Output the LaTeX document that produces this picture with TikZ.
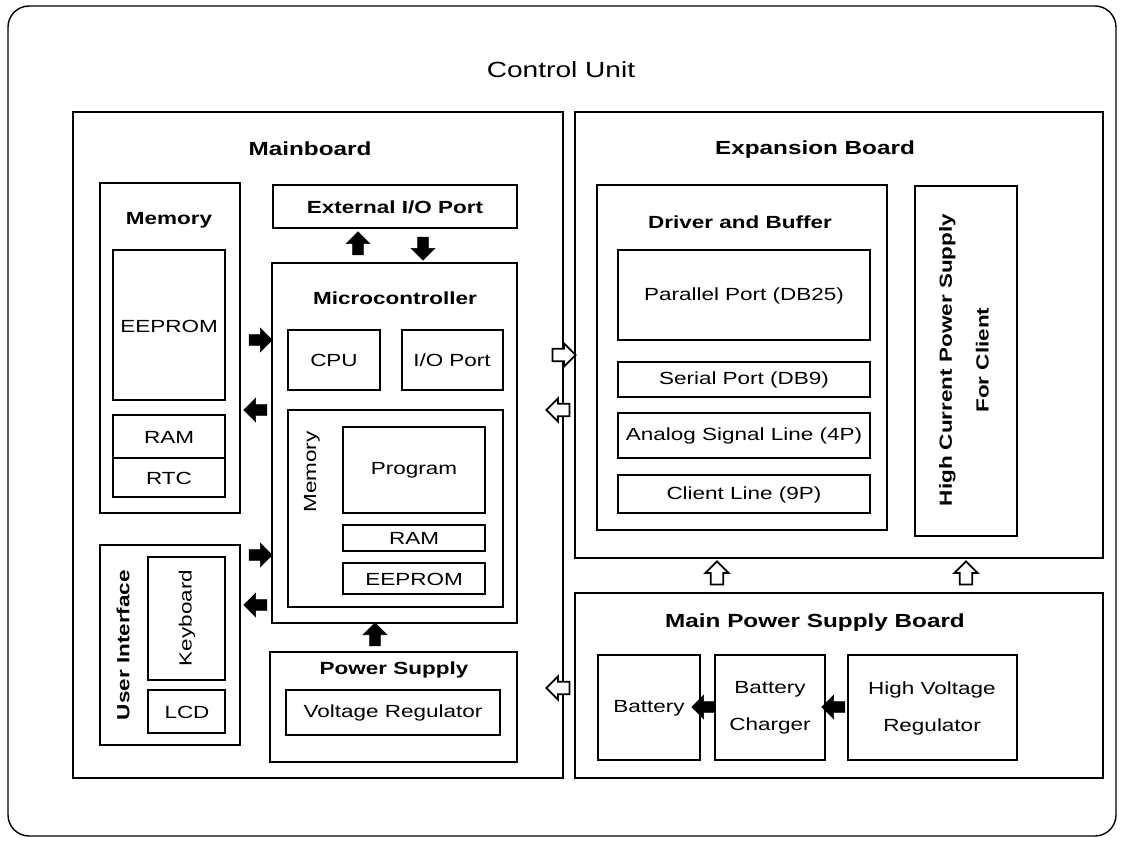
\documentclass[tikz,border=0pt]{standalone}
\usepackage{fontspec}
\setmainfont[FakeStretch=1.28]{Liberation Sans}
\usetikzlibrary{
		positioning,
		shapes.arrows
	}
\tikzset{
		board/.style={line width=1.3pt},
		inbox/.style={line width=0.8pt},
		txt/.style={font=\fontsize{10}{13}\selectfont, inner sep=1pt},
		btitle/.style={font=\bfseries\fontsize{10.8}{13}\selectfont, inner sep=1pt},
		stitle/.style={font=\bfseries\fontsize{10}{13}\selectfont, inner sep=1pt},
		blk/.style={single arrow, fill=black, draw=black, inner sep=2.8pt,
			minimum height=0.46cm, single arrow head extend=0.13cm},
		hollow/.style={single arrow, fill=white, draw=black, line width=1pt, inner sep=3pt,
			minimum height=0.46cm, single arrow head extend=0.11cm}
	}

\begin{document}
\begin{tikzpicture}[x=0.02cm, y=-0.02cm]
		\useasboundingbox (0,0) rectangle (1123,843);
		% outer frame
		\draw[line width=0.8pt, rounded corners=12pt] (8,6) rectangle (1116,836);
		\node[font=\fontsize{12.5}{14}\selectfont] (unit) at (561,70) {Control Unit};

		% mainboard
		\draw[board] (73,112) rectangle (563,778);
		\node[btitle] (mainboard) at (310,149) {Mainboard};

		\draw[board] (100,183) rectangle (240,513);
		\node[stitle] (mem) at (169,220) {Memory};
		\draw[inbox] (113,250) rectangle (225,400); \node[txt] (eeprom) at (169,326) {EEPROM};
		\draw[inbox] (113,415) rectangle (225,458); \node[txt] (ram) at (169,437) {RAM};
		\draw[inbox] (113,458) rectangle (225,497); \node[txt] (rtc) at (169,478) {RTC};

		\draw[board] (273,185) rectangle (517,228);
		\node[stitle] (extio) at (395,207) {External I/O Port};

		\draw[board] (272,263) rectangle (517,623);
		\node[stitle] (mcu) at (395,298) {Microcontroller};
		\draw[inbox] (288,330) rectangle (380,390); \node[txt] (cpu) at (334,360) {CPU};
		\draw[inbox] (402,330) rectangle (503,390); \node[txt] (ioport) at (452,360) {I/O Port};
		\draw[inbox] (288,410) rectangle (503,607);
		\node[txt, rotate=90] (mcumem) at (312,472) {Memory};
		\draw[inbox] (343,427) rectangle (485,513); \node[txt] (prog) at (414,470) {Program};
		\draw[inbox] (343,525) rectangle (485,551); \node[txt] (mcuram) at (414,538) {RAM};
		\draw[inbox] (343,563) rectangle (485,594); \node[txt] (mcueeprom) at (414,579) {EEPROM};

		\draw[board] (100,545) rectangle (240,745);
		\node[stitle, rotate=90] (ui) at (123,645) {User Interface};
		\draw[inbox] (148,557) rectangle (225,680); \node[txt, rotate=90] (kbd) at (187,618) {Keyboard};
		\draw[inbox] (148,690) rectangle (225,733); \node[txt] (lcd) at (187,712) {LCD};

		\draw[board] (270,652) rectangle (517,762);
		\node[stitle] (psu) at (394,670) {Power Supply};
		\draw[inbox] (286,690) rectangle (500,735); \node[txt] (vreg) at (393,713) {Voltage Regulator};

		% arrows on the mainboard
		\node[blk] (a1) at (258,340) {};
		\node[blk, shape border rotate=180] (a2) at (258,410) {};
		\node[blk] (a3) at (258,555) {};
		\node[blk, shape border rotate=180] (a4) at (258,605) {};
		\node[blk, shape border rotate=90] (a5) at (358,246) {};
		\node[blk, shape border rotate=270] (a6) at (423,246) {};
		\node[blk, shape border rotate=90] (a7) at (375,637) {};

		% expansion board
		\draw[board] (575,112) rectangle (1103,558);
		\node[btitle] (exp) at (815,150) {Expansion Board};
		\draw[board] (597,185) rectangle (887,530);
		\node[stitle] (drv) at (740,222) {Driver and Buffer};
		\draw[inbox] (618,250) rectangle (870,340); \node[txt] (par) at (744,296) {Parallel Port (DB25)};
		\draw[inbox] (618,362) rectangle (870,397); \node[txt] (ser) at (744,380) {Serial Port (DB9)};
		\draw[inbox] (618,413) rectangle (870,458); \node[txt] (ana) at (744,436) {Analog Signal Line (4P)};
		\draw[inbox] (618,475) rectangle (870,513); \node[txt] (cli) at (744,495) {Client Line (9P)};
		\draw[board] (915,186) rectangle (1017,536);
		\node[stitle, rotate=90, align=center] (hcps) at (964,360) {High Current Power Supply\\[8pt]For Client};

		% main power supply board
		\draw[board] (575,593) rectangle (1103,778);
		\node[btitle] (mpsb) at (815,623) {Main Power Supply Board};
		\draw[inbox] (598,655) rectangle (700,760); \node[txt] (bat) at (649,708) {Battery};
		\draw[inbox] (715,655) rectangle (825,760); \node[txt, align=center] (chg) at (770,708) {Battery\\[8pt]Charger};
		\draw[inbox] (848,655) rectangle (1017,760); \node[txt, align=center] (hvr) at (932,708) {High Voltage\\[8pt]Regulator};
		\node[blk, shape border rotate=180] (a8) at (706,707) {};
		\node[blk, shape border rotate=180] (a9) at (836,707) {};

		% links between the boards
		\node[hollow] (h1) at (561,355) {};
		\node[hollow, shape border rotate=180] (h2) at (561,410) {};
		\node[hollow, shape border rotate=90] (h3) at (717,576) {};
		\node[hollow, shape border rotate=90] (h4) at (966,576) {};
		\node[hollow, shape border rotate=180] (h5) at (561,688) {};
	\end{tikzpicture}
\end{document}
